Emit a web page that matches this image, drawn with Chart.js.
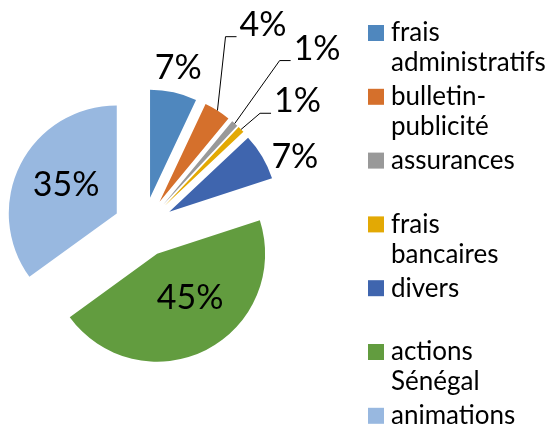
<!DOCTYPE html>
<html>
<head>
<meta charset="utf-8">
<script src="https://cdn.jsdelivr.net/npm/chart.js@4.4.1/dist/chart.umd.min.js"></script>
<style>
    body { margin: 0; background: #fff; }
    #wrap { width: 550px; height: 428px; position: relative; }
</style>
</head>
<body>
<div id="wrap"><canvas id="chart"></canvas></div>
<script>
// Data:
const categories = ['frais administratifs', 'bulletin-publicité', 'assurances', 'frais bancaires', 'divers', 'actions Sénégal', 'animations'];
const shares = [7, 4, 1, 1, 7, 45, 35];
const sliceColors = ['#4F87BE', '#D5702C', '#999999', '#E3A904', '#3F65AE', '#629C3F', '#98B8E0'];

// Label layout (distance from the pie centre and small turn, degrees):
const labelDist = [133, 205, 219, 169, 137, 55, 58];
const labelTurn = [-0.4, -2.1, 3.2, 6.8, 7, -10, 2];
const withLeader = [false, true, true, true, false, false, false];

const EXPLODE = 30;
const RADIUS = 108;
const LABEL_FONT = '34px Lato';
const LEGEND_FONT = '26px Lato';

function splitLabel(text) {
    return text.replace(/-/g, '-\n').split(/[ \n]/).filter(function(s) { return s.length; });
}

// move every slice outwards along its middle angle
const explodePlugin = {
    id: 'explode',
    beforeDatasetsDraw(chart) {
        let area = chart.chartArea;
        let cx = (area.left + area.right) / 2;
        let cy = (area.top + area.bottom) / 2;
        for (const arc of chart.getDatasetMeta(0).data) {
            let mid = (arc.startAngle + arc.endAngle) / 2;
            arc.x = cx + Math.cos(mid) * EXPLODE;
            arc.y = cy + Math.sin(mid) * EXPLODE;
        }
    }
};

// percentage labels + leader lines
const labelPlugin = {
    id: 'pctLabels',
    afterDatasetsDraw(chart) {
        let ctx = chart.ctx;
        let total = shares.reduce(function(a, b) { return a + b; }, 0);
        ctx.save();
        ctx.font = LABEL_FONT;
        ctx.fillStyle = '#000';
        ctx.strokeStyle = '#000';
        ctx.lineWidth = 1;
        chart.getDatasetMeta(0).data.forEach(function(arc, i) {
            let mid = (arc.startAngle + arc.endAngle) / 2;
            let ang = mid + labelTurn[i] * Math.PI / 180;
            let lx = arc.x + Math.cos(ang) * labelDist[i];
            let ly = arc.y + Math.sin(ang) * labelDist[i];
            let text = Math.round(shares[i] / total * 100) + '%';
            ctx.textAlign = 'center';
            ctx.textBaseline = 'middle';
            ctx.fillText(text, lx, ly);
            if (withLeader[i]) {
                let w = ctx.measureText(text).width;
                let left = lx - w / 2;
                let bottom = ly + 12;
                let sx = arc.x + Math.cos(mid) * arc.outerRadius;
                let sy = arc.y + Math.sin(mid) * arc.outerRadius;
                ctx.beginPath();
                ctx.moveTo(sx, sy);
                ctx.lineTo(left - 14, bottom);
                ctx.lineTo(left - 3, bottom);
                ctx.stroke();
            }
        });
        ctx.restore();
    }
};

// legend on the right, wrapped on two lines
const legendPlugin = {
    id: 'sideLegend',
    afterDraw(chart) {
        let ctx = chart.ctx;
        ctx.save();
        ctx.font = LEGEND_FONT;
        ctx.textAlign = 'left';
        ctx.textBaseline = 'middle';
        categories.forEach(function(cat, i) {
            let y = 33 + i * 63.8;
            ctx.fillStyle = sliceColors[i];
            ctx.fillRect(368, y - 8, 16, 16);
            ctx.fillStyle = '#000';
            splitLabel(cat).forEach(function(line, k) {
                ctx.fillText(line, 391, y + k * 30);
            });
        });
        ctx.restore();
    }
};

let config = {
    type: 'pie',
    data: {
        labels: categories,
        datasets: [{
            data: shares,
            backgroundColor: sliceColors,
            borderWidth: 0,
            radius: RADIUS
        }]
    },
    options: {
        responsive: true,
        maintainAspectRatio: false,
        animation: false,
        layout: { padding: { left: 0, right: 263, top: 26, bottom: 0 } },
        plugins: {
            legend: { display: false },
            tooltip: { enabled: false }
        },
        events: []
    },
    plugins: [explodePlugin, labelPlugin, legendPlugin]
};

let myChart = new Chart(document.getElementById('chart'), config);
</script>
</body>
</html>
